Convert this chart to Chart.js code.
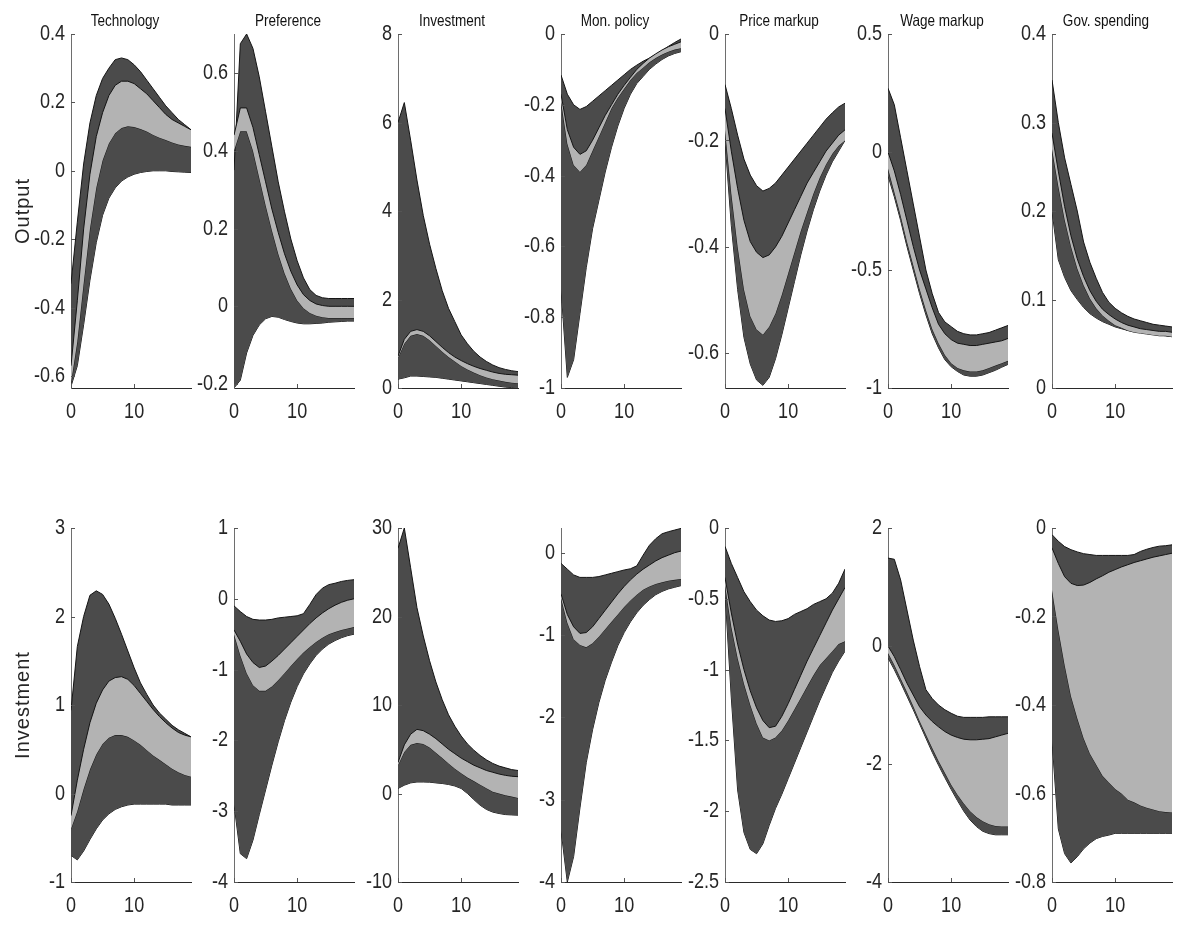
<!DOCTYPE html>
<html>
<head>
<meta charset="utf-8">
<script src="https://cdn.jsdelivr.net/npm/chart.js@4.4.0/dist/chart.umd.min.js"></script>
<style>
body{margin:0;background:#fff;width:1196px;height:942px;position:relative;overflow:hidden}
canvas{position:absolute}
.ttl{position:absolute;width:160px;text-align:center;font-family:'Liberation Sans',Arial,sans-serif;font-size:16.5px;line-height:22px;color:#111;transform:scaleX(0.82);transform-origin:center}
.rowlab{position:absolute;font-family:'Liberation Sans',Arial,sans-serif;font-size:20px;letter-spacing:1px;color:#262626;white-space:nowrap;transform:translate(-50%,-50%) rotate(-90deg)}
</style>
</head>
<body>
<script>

// shocks (columns) and variables (rows)
const shocks=["Technology","Preference","Investment","Mon. policy","Price markup","Wage markup","Gov. spending"]
const rowNames=["Output","Investment"]
const periods=[0,1,2,3,4,5,6,7,8,9,10,11,12,13,14,15,16,17,18,19]
const xTicks=[0,10]

// y axis limits and ticks
const outYMin=[-0.635,-0.21,0,-1,-0.665,-1,0]
const outYMax=[0.4,0.70,8,0,0,0.5,0.4]
const outTicks=[[-0.6,-0.4,-0.2,0,0.2,0.4],[-0.2,0,0.2,0.4,0.6],[0,2,4,6,8],[-1,-0.8,-0.6,-0.4,-0.2,0],[-0.6,-0.4,-0.2,0],[-1,-0.5,0,0.5],[0,0.1,0.2,0.3,0.4]]
const invYMin=[-1,-4,-10,-4,-2.5,-4,-0.8]
const invYMax=[3,1,30,0.3,0,2,0]
const invTicks=[[-1,0,1,2,3],[-4,-3,-2,-1,0,1],[-10,0,10,20,30],[-4,-3,-2,-1,0],[-2.5,-2,-1.5,-1,-0.5,0],[-4,-2,0,2],[-0.8,-0.6,-0.4,-0.2,0]]

// OUTPUT: outer band upper / inner band upper / inner band lower / outer band lower
const outHi=[
[-0.33,-0.15,0.02,0.14,0.22,0.27,0.30,0.325,0.33,0.325,0.31,0.29,0.265,0.24,0.215,0.19,0.17,0.15,0.135,0.12],
[0.35,0.675,0.70,0.663,0.59,0.50,0.41,0.32,0.243,0.173,0.117,0.073,0.043,0.028,0.022,0.02,0.02,0.02,0.02,0.02],
[6.0,6.45,5.6,4.7,3.9,3.25,2.7,2.2,1.8,1.5,1.2,1.0,0.83,0.7,0.6,0.52,0.46,0.42,0.39,0.37],
[-0.116,-0.17,-0.2,-0.213,-0.205,-0.19,-0.175,-0.16,-0.145,-0.13,-0.115,-0.1,-0.088,-0.077,-0.068,-0.058,-0.047,-0.035,-0.024,-0.014],
[-0.095,-0.14,-0.19,-0.235,-0.265,-0.285,-0.295,-0.29,-0.28,-0.265,-0.25,-0.235,-0.22,-0.205,-0.19,-0.175,-0.16,-0.148,-0.137,-0.13],
[0.27,0.2,0.06,-0.08,-0.22,-0.36,-0.5,-0.6,-0.68,-0.72,-0.74,-0.76,-0.77,-0.775,-0.775,-0.77,-0.765,-0.755,-0.745,-0.735],
[0.348,0.3,0.26,0.23,0.2,0.165,0.142,0.124,0.108,0.097,0.09,0.085,0.081,0.078,0.076,0.074,0.072,0.071,0.07,0.069]
]
const outHiIn=[
[-0.57,-0.38,-0.17,-0.01,0.10,0.17,0.22,0.25,0.262,0.262,0.255,0.24,0.225,0.205,0.185,0.165,0.15,0.14,0.13,0.12],
[0.44,0.51,0.51,0.46,0.39,0.32,0.25,0.19,0.135,0.09,0.055,0.03,0.015,0.006,0.002,0,0,0,0,0],
[0.72,1.1,1.28,1.32,1.28,1.18,1.05,0.92,0.8,0.7,0.62,0.55,0.49,0.44,0.4,0.36,0.33,0.31,0.3,0.29],
[-0.17,-0.27,-0.32,-0.34,-0.33,-0.3,-0.265,-0.23,-0.2,-0.17,-0.145,-0.122,-0.1,-0.083,-0.068,-0.056,-0.045,-0.036,-0.029,-0.022],
[-0.14,-0.22,-0.29,-0.35,-0.39,-0.41,-0.42,-0.415,-0.4,-0.38,-0.355,-0.33,-0.305,-0.28,-0.26,-0.24,-0.22,-0.205,-0.19,-0.18],
[0.0,-0.08,-0.18,-0.29,-0.4,-0.5,-0.58,-0.66,-0.73,-0.77,-0.795,-0.81,-0.815,-0.82,-0.82,-0.815,-0.81,-0.805,-0.8,-0.79],
[0.288,0.245,0.205,0.172,0.146,0.126,0.11,0.098,0.089,0.083,0.078,0.074,0.071,0.069,0.067,0.066,0.065,0.064,0.064,0.063]
]
const outLoIn=[
[-0.62,-0.50,-0.33,-0.17,-0.05,0.03,0.08,0.11,0.125,0.13,0.128,0.122,0.115,0.105,0.097,0.09,0.083,0.077,0.073,0.07],
[0.40,0.45,0.45,0.40,0.33,0.26,0.195,0.135,0.085,0.045,0.015,-0.005,-0.017,-0.024,-0.028,-0.03,-0.03,-0.03,-0.03,-0.03],
[0.68,1.0,1.18,1.22,1.18,1.08,0.95,0.82,0.7,0.6,0.5,0.42,0.35,0.29,0.24,0.2,0.17,0.14,0.12,0.11],
[-0.19,-0.31,-0.37,-0.39,-0.37,-0.33,-0.29,-0.25,-0.21,-0.18,-0.155,-0.13,-0.11,-0.095,-0.08,-0.068,-0.058,-0.05,-0.044,-0.04],
[-0.18,-0.3,-0.4,-0.48,-0.53,-0.555,-0.565,-0.55,-0.525,-0.49,-0.45,-0.41,-0.37,-0.335,-0.3,-0.27,-0.245,-0.225,-0.21,-0.2],
[-0.07,-0.17,-0.27,-0.38,-0.48,-0.58,-0.67,-0.75,-0.81,-0.86,-0.895,-0.915,-0.925,-0.93,-0.93,-0.925,-0.915,-0.905,-0.895,-0.885],
[0.27,0.228,0.19,0.16,0.135,0.116,0.101,0.09,0.082,0.076,0.071,0.068,0.065,0.063,0.062,0.061,0.06,0.059,0.059,0.058]
]
const outLo=[
[-0.63,-0.57,-0.45,-0.32,-0.21,-0.13,-0.08,-0.05,-0.03,-0.018,-0.01,-0.005,-0.002,0,0,0,-0.002,-0.003,-0.004,-0.005],
[-0.21,-0.19,-0.12,-0.075,-0.048,-0.032,-0.026,-0.028,-0.034,-0.039,-0.043,-0.045,-0.045,-0.044,-0.043,-0.041,-0.04,-0.039,-0.038,-0.038],
[0.2,0.23,0.27,0.27,0.26,0.25,0.24,0.22,0.2,0.18,0.16,0.14,0.12,0.1,0.08,0.06,0.04,0.02,0.01,0],
[-0.72,-0.97,-0.92,-0.79,-0.66,-0.55,-0.47,-0.39,-0.32,-0.26,-0.21,-0.17,-0.14,-0.12,-0.1,-0.085,-0.072,-0.062,-0.055,-0.05],
[-0.2,-0.36,-0.48,-0.57,-0.62,-0.65,-0.66,-0.645,-0.61,-0.565,-0.515,-0.465,-0.415,-0.37,-0.33,-0.295,-0.265,-0.24,-0.22,-0.2],
[-0.1,-0.19,-0.29,-0.4,-0.5,-0.6,-0.69,-0.77,-0.83,-0.88,-0.91,-0.93,-0.945,-0.95,-0.95,-0.945,-0.935,-0.925,-0.912,-0.9],
[0.2,0.145,0.125,0.11,0.1,0.091,0.084,0.079,0.075,0.072,0.069,0.067,0.065,0.064,0.063,0.062,0.061,0.06,0.059,0.058]
]

// INVESTMENT: same four bounds
const invHi=[
[0.94,1.66,2.0,2.24,2.29,2.25,2.14,1.98,1.8,1.61,1.42,1.25,1.12,1.0,0.91,0.84,0.77,0.72,0.68,0.64],
[-0.1,-0.18,-0.25,-0.29,-0.3,-0.3,-0.29,-0.27,-0.26,-0.25,-0.24,-0.21,-0.08,0.06,0.15,0.2,0.22,0.245,0.26,0.27],
[27.7,30,25.5,21,17.8,15,12.6,10.6,8.9,7.6,6.5,5.6,4.9,4.3,3.8,3.4,3.1,2.9,2.7,2.6],
[-0.13,-0.2,-0.27,-0.3,-0.3,-0.3,-0.29,-0.27,-0.25,-0.23,-0.21,-0.195,-0.16,-0.03,0.09,0.17,0.23,0.255,0.275,0.295],
[-0.13,-0.25,-0.35,-0.45,-0.52,-0.58,-0.62,-0.65,-0.66,-0.655,-0.64,-0.61,-0.59,-0.57,-0.54,-0.52,-0.5,-0.46,-0.39,-0.29],
[1.49,1.47,1.12,0.61,0.1,-0.35,-0.74,-0.89,-1.0,-1.08,-1.14,-1.19,-1.21,-1.21,-1.21,-1.21,-1.2,-1.2,-1.2,-1.2],
[-0.015,-0.03,-0.042,-0.049,-0.054,-0.058,-0.06,-0.062,-0.062,-0.062,-0.062,-0.062,-0.062,-0.06,-0.053,-0.048,-0.044,-0.041,-0.04,-0.038]
]
const invHiIn=[
[-0.25,0.15,0.5,0.8,1.02,1.17,1.27,1.31,1.32,1.29,1.22,1.13,1.04,0.95,0.87,0.8,0.74,0.69,0.66,0.64],
[-0.44,-0.6,-0.78,-0.9,-0.97,-0.95,-0.88,-0.8,-0.71,-0.62,-0.53,-0.44,-0.35,-0.27,-0.2,-0.14,-0.09,-0.05,-0.02,0],
[3.5,5.5,6.7,7.25,7.1,6.7,6.2,5.6,5.0,4.5,4.0,3.6,3.2,2.9,2.6,2.4,2.2,2.05,1.95,1.9],
[-0.5,-0.75,-0.9,-0.98,-0.97,-0.9,-0.8,-0.7,-0.6,-0.5,-0.41,-0.33,-0.26,-0.2,-0.15,-0.1,-0.06,-0.03,0,0.02],
[-0.35,-0.6,-0.82,-1.0,-1.15,-1.27,-1.36,-1.41,-1.4,-1.33,-1.24,-1.14,-1.04,-0.94,-0.85,-0.76,-0.67,-0.58,-0.5,-0.42],
[0,-0.18,-0.4,-0.63,-0.83,-1.03,-1.17,-1.28,-1.37,-1.45,-1.51,-1.55,-1.58,-1.59,-1.59,-1.58,-1.57,-1.54,-1.51,-1.48],
[-0.045,-0.08,-0.11,-0.125,-0.13,-0.129,-0.123,-0.115,-0.108,-0.1,-0.094,-0.088,-0.083,-0.078,-0.074,-0.07,-0.066,-0.063,-0.06,-0.057]
]
const invLoIn=[
[-0.4,-0.2,0.05,0.27,0.44,0.56,0.63,0.66,0.66,0.64,0.6,0.55,0.49,0.43,0.38,0.33,0.28,0.24,0.21,0.19],
[-0.5,-0.8,-1.05,-1.22,-1.3,-1.3,-1.24,-1.15,-1.05,-0.95,-0.85,-0.76,-0.68,-0.61,-0.55,-0.5,-0.47,-0.44,-0.42,-0.4],
[3.2,4.7,5.5,5.7,5.6,5.2,4.6,4.0,3.4,2.8,2.3,1.8,1.4,1.0,0.6,0.2,0,-0.2,-0.35,-0.5],
[-0.55,-0.85,-1.05,-1.12,-1.15,-1.1,-1.02,-0.93,-0.84,-0.75,-0.66,-0.58,-0.51,-0.45,-0.41,-0.38,-0.36,-0.34,-0.33,-0.32],
[-0.4,-0.7,-0.92,-1.1,-1.25,-1.38,-1.48,-1.5,-1.48,-1.43,-1.36,-1.28,-1.2,-1.12,-1.04,-0.97,-0.92,-0.87,-0.82,-0.8],
[-0.12,-0.32,-0.55,-0.78,-1.02,-1.27,-1.5,-1.73,-1.95,-2.15,-2.35,-2.52,-2.67,-2.8,-2.9,-2.97,-3.02,-3.05,-3.06,-3.06],
[-0.14,-0.23,-0.31,-0.38,-0.43,-0.475,-0.51,-0.535,-0.56,-0.575,-0.59,-0.6,-0.614,-0.62,-0.627,-0.632,-0.636,-0.64,-0.642,-0.643]
]
const invLo=[
[-0.7,-0.75,-0.65,-0.52,-0.4,-0.3,-0.23,-0.18,-0.15,-0.13,-0.12,-0.12,-0.12,-0.12,-0.12,-0.12,-0.13,-0.13,-0.13,-0.13],
[-2.9,-3.6,-3.67,-3.41,-3.05,-2.7,-2.35,-2.02,-1.72,-1.46,-1.24,-1.06,-0.92,-0.8,-0.71,-0.64,-0.59,-0.55,-0.52,-0.5],
[0.57,0.94,1.2,1.3,1.3,1.28,1.2,1.13,1.02,0.85,0.57,0.0,-0.68,-1.32,-1.8,-2.1,-2.26,-2.38,-2.42,-2.45],
[-3.37,-4.0,-3.69,-3.1,-2.55,-2.15,-1.82,-1.55,-1.33,-1.13,-0.97,-0.84,-0.73,-0.64,-0.57,-0.51,-0.47,-0.44,-0.42,-0.4],
[-0.45,-1.2,-1.85,-2.15,-2.27,-2.3,-2.23,-2.1,-1.98,-1.88,-1.77,-1.66,-1.55,-1.44,-1.33,-1.22,-1.12,-1.02,-0.94,-0.87],
[-0.2,-0.4,-0.62,-0.85,-1.08,-1.32,-1.56,-1.8,-2.02,-2.23,-2.43,-2.62,-2.8,-2.95,-3.06,-3.14,-3.18,-3.2,-3.2,-3.2],
[-0.48,-0.68,-0.736,-0.757,-0.743,-0.725,-0.712,-0.702,-0.697,-0.694,-0.69,-0.69,-0.69,-0.69,-0.69,-0.69,-0.69,-0.69,-0.69,-0.69]
]


// LAYOUT
const axLeft=[71,234,398,561,725,888,1052]
const rowTop=[34,528]
const plotW=120, plotH=354
const padL=62, padT=14, padR=10, padB=36

const DARK="#4b4b4b"
const LIGHT="#b3b3b3"
const EDGE="#141414"
const FONT="22px 'Liberation Sans',Arial,sans-serif"
const SQUEEZE=0.82

// MATLAB style: ticks pointing inside, narrow tick labels
const matlabAxes={
id:"matlabAxes",
afterDraw(c){
let ctx=c.ctx, a=c.chartArea, xs=c.scales.x, ys=c.scales.y
ctx.save()
ctx.strokeStyle="#555"
ctx.lineWidth=1
ctx.beginPath()
ys.ticks.forEach(t=>{
let p=Math.round(ys.getPixelForValue(t.value))+0.5
ctx.moveTo(a.left,p)
ctx.lineTo(a.left+4,p)
})
xs.ticks.forEach(t=>{
let p=Math.round(xs.getPixelForValue(t.value))+0.5
ctx.moveTo(p,a.bottom)
ctx.lineTo(p,a.bottom-4)
})
ctx.stroke()

ctx.fillStyle="#262626"
ctx.font=FONT
ctx.textBaseline="middle"
ys.ticks.forEach(t=>{
let p=ys.getPixelForValue(t.value)
ctx.save()
ctx.translate(a.left-6,p)
ctx.scale(SQUEEZE,1)
ctx.textAlign="right"
ctx.fillText(String(t.value),0,0)
ctx.restore()
})
xs.ticks.forEach(t=>{
let p=xs.getPixelForValue(t.value)
ctx.save()
ctx.translate(p,a.bottom+24)
ctx.scale(SQUEEZE,1)
ctx.textAlign="center"
ctx.fillText(String(t.value),0,0)
ctx.restore()
})
ctx.restore()
}
}

function line(vals,fill,color){
return {
data:periods.map((p,i)=>({x:p,y:vals[i]})),
borderColor:EDGE,
borderWidth:1,
pointRadius:0,
tension:0,
fill:fill,
backgroundColor:color
}
}

function makePanel(row,col){

let hi=row==0?outHi:invHi
let hiIn=row==0?outHiIn:invHiIn
let loIn=row==0?outLoIn:invLoIn
let lo=row==0?outLo:invLo
let ymin=row==0?outYMin[col]:invYMin[col]
let ymax=row==0?outYMax[col]:invYMax[col]
let yt=row==0?outTicks[col]:invTicks[col]

let cv=document.createElement("canvas")
cv.width=padL+plotW+padR
cv.height=padT+plotH+padB
cv.style.left=(axLeft[col]-padL)+"px"
cv.style.top=(rowTop[row]-padT)+"px"
document.body.appendChild(cv)

new Chart(cv,{
type:"line",
data:{
datasets:[
// dataset 0 is painted last, so the light band sits on top of the dark one
line(hiIn[col],"+1",LIGHT),
line(loIn[col],false,LIGHT),
line(hi[col],"+1",DARK),
line(lo[col],false,DARK)
]
},
options:{
responsive:false,
animation:false,
events:[],
layout:{padding:{left:0,right:padR,top:padT,bottom:0}},
plugins:{legend:{display:false},tooltip:{enabled:false}},
scales:{
x:{
type:"linear",
min:0,max:19,
afterBuildTicks:s=>{s.ticks=xTicks.map(v=>({value:v}))},
afterFit:s=>{s.height=padB},
grid:{display:false},
border:{display:true,color:"#2a2a2a",width:1},
ticks:{display:false}
},
y:{
min:ymin,max:ymax,
afterBuildTicks:s=>{s.ticks=yt.map(v=>({value:v}))},
afterFit:s=>{s.width=padL},
grid:{display:false},
border:{display:true,color:"#6e6e6e",width:1},
ticks:{display:false}
}
}
},
plugins:[matlabAxes]
})

}

for(let r=0;r<2;r++){
for(let c=0;c<7;c++){
makePanel(r,c)
}
}

// titles over the top row
shocks.forEach((s,c)=>{
let d=document.createElement("div")
d.className="ttl"
d.style.left=(axLeft[c]-26)+"px"
d.style.top="9px"
d.innerText=s
document.body.appendChild(d)
})

// row labels
rowNames.forEach((s,r)=>{
let d=document.createElement("div")
d.className="rowlab"
d.style.left="22px"
d.style.top=(rowTop[r]+plotH/2)+"px"
d.innerText=s
document.body.appendChild(d)
})

</script>
</body>
</html>
